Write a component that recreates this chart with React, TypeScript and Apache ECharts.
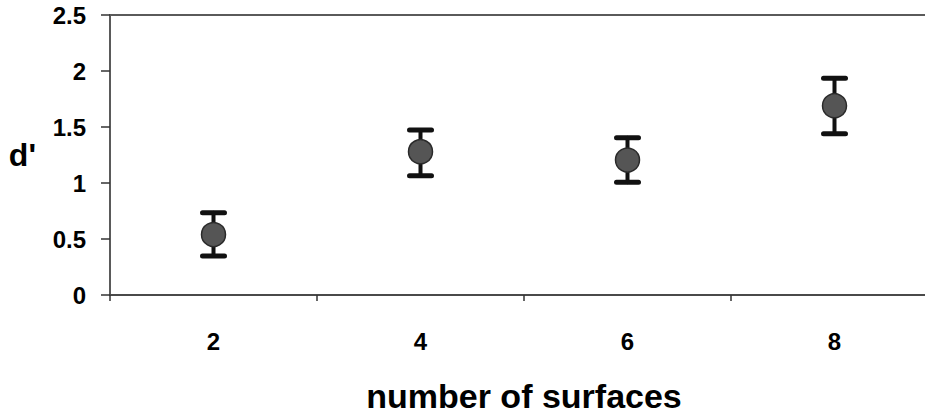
import React, { useEffect, useRef } from "react";
import * as echarts from "echarts";

const categories = ["2", "4", "6", "8"];
const means = [0.54, 1.28, 1.205, 1.69];
const lows = [0.348, 1.065, 1.006, 1.44];
const highs = [0.735, 1.473, 1.405, 1.935];
const yTicks = { min: 0, max: 2.5, interval: 0.5 };

const FONT = "'Liberation Sans', Arial, Helvetica, sans-serif";

export default function App() {
  const ref = useRef<HTMLDivElement>(null);
  useEffect(() => {
    document.body.style.margin = "0";
    const chart = echarts.init(ref.current!, null, { renderer: "svg" });
    const errData = categories.map((_, i) => [i, lows[i], highs[i]]);
    chart.setOption({
      animation: false,
      backgroundColor: "#ffffff",
      grid: {
        left: 110,
        right: -13,
        top: 15,
        bottom: 120,
        outerBoundsMode: "none",
        containLabel: false,
        show: true,
        borderColor: "#5a5a5a",
        borderWidth: 2,
        backgroundColor: "transparent",
      },
      xAxis: {
        type: "category",
        data: categories,
        boundaryGap: true,
        name: "number of surfaces",
        nameLocation: "middle",
        nameGap: 84,
        nameTextStyle: { fontFamily: FONT, fontWeight: "bold", fontSize: 34, color: "#000" },
        axisLine: { show: true, lineStyle: { color: "#4a4a4a", width: 2 } },
        axisTick: { show: true, length: 6, lineStyle: { color: "#333", width: 1.5 } },
        axisLabel: { margin: 34, fontFamily: FONT, fontWeight: "bold", fontSize: 24, color: "#000" },
        splitLine: { show: false },
      },
      yAxis: {
        type: "value",
        min: yTicks.min,
        max: yTicks.max,
        interval: yTicks.interval,
        name: "d'",
        nameLocation: "middle",
        nameRotate: 0,
        nameGap: 74,
        nameTextStyle: { fontFamily: FONT, fontWeight: "bold", fontSize: 32, color: "#000", padding: [10, 0, 0, 0] },
        axisLine: { show: true, lineStyle: { color: "#5a5a5a", width: 2 } },
        axisTick: { show: true, inside: false, length: 9, lineStyle: { color: "#333", width: 1.5 } },
        axisLabel: { margin: 24, fontFamily: FONT, fontWeight: "bold", fontSize: 24, color: "#000" },
        splitLine: { show: false },
      },
      series: [
        {
          type: "custom",
          data: errData,
          z: 2,
          renderItem: (params: any, api: any) => {
            const x = api.value(0);
            const lo = api.coord([x, api.value(1)]);
            const hi = api.coord([x, api.value(2)]);
            const hw = 11;
            const style = { stroke: "#111", lineWidth: 4, lineCap: "round" };
            return {
              type: "group",
              children: [
                { type: "line", shape: { x1: lo[0], y1: lo[1], x2: hi[0], y2: hi[1] }, style },
                { type: "line", shape: { x1: hi[0] - hw, y1: hi[1], x2: hi[0] + hw, y2: hi[1] }, style: { ...style, lineWidth: 5 } },
                { type: "line", shape: { x1: lo[0] - hw, y1: lo[1], x2: lo[0] + hw, y2: lo[1] }, style: { ...style, lineWidth: 5 } },
              ],
            };
          },
        },
        {
          type: "scatter",
          data: means,
          z: 5,
          symbol: "circle",
          symbolSize: 24,
          itemStyle: { color: "#555555", borderColor: "#2a2a2a", borderWidth: 1.5, opacity: 1 },
        },
      ],
    });
    return () => chart.dispose();
  }, []);
  return <div ref={ref} style={{ width: 925, height: 415 }} />;
}
